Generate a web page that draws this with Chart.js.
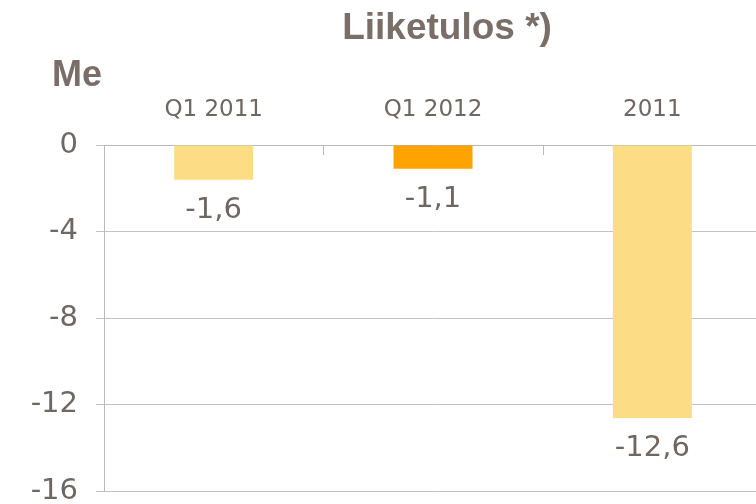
<!DOCTYPE html>
<html lang="fi">
<head>
<meta charset="utf-8" />
<title>Liiketulos</title>
<script src="https://cdn.jsdelivr.net/npm/chart.js@4.4.0/dist/chart.umd.min.js"></script>
<style>
  html, body { margin: 0; padding: 0; background: #fff; overflow: hidden; height: 504px; }
  #wrap { width: 764px; height: 527px; }
</style>
</head>
<body>
<div id="wrap"><canvas id="liiketulos"></canvas></div>
<script>
    // data
    var categories = ["Q1 2011", "Q1 2012", "2011"];
    var values = [-1.6, -1.1, -12.6];
    var barColors = ["#FCDD86", "#FFA301", "#FCDD86"];
    var yTicks = [0, -4, -8, -12, -16];

    var textColor = "#6f6762";
    var titleColor = "#7a6f68";

    // title, "Me" unit label, data labels and inner tick marks
    var decorations = {
        id: "decorations",
        afterDatasetsDraw: function (chart) {
            var ctx = chart.ctx;
            var area = chart.chartArea;
            ctx.save();
            ctx.fillStyle = titleColor;
            ctx.font = "bold 37px 'Liberation Sans', Arial, sans-serif";
            ctx.textAlign = "center";
            ctx.textBaseline = "middle";
            ctx.fillText("Liiketulos *)", (area.left + area.right) / 2 + 14, 29);
            ctx.textAlign = "left";
            ctx.font = "bold 36px 'Liberation Sans', Arial, sans-serif";
            ctx.fillText("Me", 52, 76);

            // data labels below each bar
            ctx.fillStyle = textColor;
            ctx.font = "29px 'DejaVu Sans', Verdana, sans-serif";
            ctx.textAlign = "center";
            var meta = chart.getDatasetMeta(0);
            meta.data.forEach(function (bar, i) {
                ctx.fillText(String(values[i]).replace(".", ","), bar.x, bar.y + 31);
            });

            // tick marks between categories, pointing down from the zero line
            var xs = chart.scales.x;
            ctx.strokeStyle = "#b9b9b9";
            ctx.lineWidth = 1;
            for (var i = 1; i < categories.length; i++) {
                var px = Math.round((xs.getPixelForTick(i - 1) + xs.getPixelForTick(i)) / 2) + 0.5;
                ctx.beginPath();
                ctx.moveTo(px, area.top);
                ctx.lineTo(px, area.top + 10);
                ctx.stroke();
            }
            ctx.restore();
        }
    };

    new Chart(document.getElementById("liiketulos").getContext("2d"), {
        type: "bar",
        data: {
            labels: categories,
            datasets: [{
                data: values,
                backgroundColor: barColors,
                borderWidth: 0,
                barPercentage: 0.36,
                categoryPercentage: 1
            }]
        },
        options: {
            responsive: true,
            maintainAspectRatio: false,
            animation: false,
            layout: { padding: { top: 0, right: 2, bottom: 0, left: 0 } },
            plugins: {
                legend: { display: false },
                tooltip: { enabled: false }
            },
            scales: {
                x: {
                    position: "top",
                    grid: { display: false, drawTicks: false },
                    border: { color: "#b9b9b9" },
                    ticks: {
                        color: textColor,
                        padding: 21,
                        font: { family: "'DejaVu Sans', Verdana, sans-serif", size: 23 }
                    },
                    afterFit: function (scale) { scale.height = 145; }
                },
                y: {
                    min: -16,
                    max: 0,
                    afterBuildTicks: function (scale) {
                        scale.ticks = yTicks.map(function (v) { return { value: v }; });
                    },
                    grid: { color: "#c3c3c3", tickLength: 8 },
                    border: { color: "#b9b9b9" },
                    ticks: {
                        color: textColor,
                        padding: 18,
                        font: { family: "'DejaVu Sans', Verdana, sans-serif", size: 29 }
                    },
                    afterFit: function (scale) { scale.width = 104; }
                }
            }
        },
        plugins: [decorations]
    });
</script>
</body>
</html>
